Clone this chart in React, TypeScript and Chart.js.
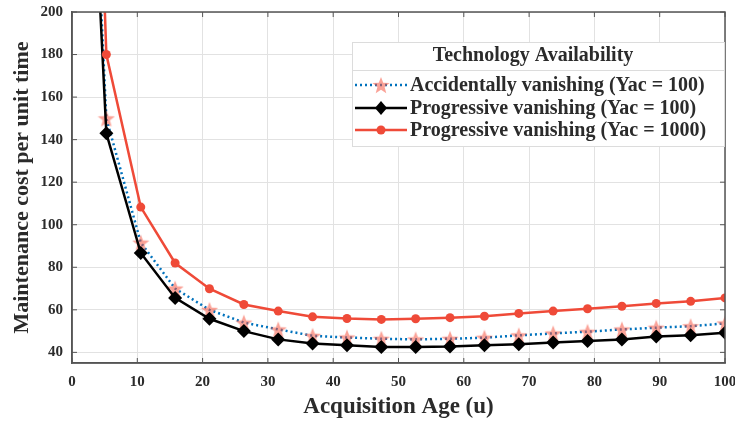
import React, { useEffect, useRef } from 'react';
import { Chart, registerables } from 'chart.js';
Chart.register(...registerables);

const ages = [0, 5.26, 10.53, 15.79, 21.05, 26.32, 31.58, 36.84, 42.11, 47.37, 52.63, 57.89, 63.16, 68.42, 73.68, 78.95, 84.21, 89.47, 94.74, 100];
const accidental100 = [490, 150, 91.6, 70, 60, 54, 50.8, 47.8, 47.0, 46.4, 46.1, 46.4, 46.9, 48.0, 48.9, 49.7, 50.8, 51.6, 52.3, 53.6];
const progressive100 = [470, 143, 86.7, 65.6, 55.8, 50, 46.1, 44.2, 43.3, 42.5, 42.5, 42.7, 43.3, 43.8, 44.6, 45.3, 46.1, 47.4, 48.0, 49.2];
const progressive1000 = [650, 180, 108.3, 82, 69.9, 62.5, 59.4, 56.7, 55.9, 55.5, 55.8, 56.3, 57.0, 58.3, 59.4, 60.5, 61.7, 63.0, 64.0, 65.6];
const xTicks = [0, 10, 20, 30, 40, 50, 60, 70, 80, 90, 100];
const yTicks = [40, 60, 80, 100, 120, 140, 160, 180, 200];
const seriesLabels = [
  'Accidentally vanishing (Yac = 100)',
  'Progressive vanishing (Yac = 100)',
  'Progressive vanishing (Yac = 1000)',
];
const legendTitle = 'Technology Availability';
const xTitle = 'Acquisition Age (u)';
const yTitle = 'Maintenance cost per unit time';

const BLUE = '#0072BD';
const RED = '#EF4A38';
const STAR = 'rgba(245,85,65,0.55)';
const TEXT = '#2b2b2b';
const AXIS = '#555555';
const FONT = '"Liberation Serif", "Times New Roman", serif';

function makeStar(size: number, color: string) {
  const c = document.createElement('canvas');
  c.width = size;
  c.height = size;
  const g = c.getContext('2d')!;
  const cx = size / 2, cy = size / 2 + size * 0.05;
  const R = size / 2, r = R * 0.42;
  g.beginPath();
  for (let i = 0; i < 10; i++) {
    const rad = i % 2 === 0 ? R : r;
    const a = -Math.PI / 2 + (i * Math.PI) / 5;
    const px = cx + rad * Math.cos(a), py = cy + rad * Math.sin(a);
    if (i === 0) g.moveTo(px, py); else g.lineTo(px, py);
  }
  g.closePath();
  g.fillStyle = color;
  g.fill();
  return c;
}

export default function App() {
  const ref = useRef<HTMLCanvasElement>(null);
  useEffect(() => {
    document.body.style.margin = '0';
    const star = makeStar(18, STAR);
    const toPts = (ys: number[]) => ages.map((x, i) => ({ x, y: ys[i] }));

    const framePlugin = {
      id: 'frame',
      afterDraw(chart: any) {
        const { ctx, chartArea: a, scales } = chart;
        ctx.save();
        ctx.strokeStyle = AXIS;
        ctx.lineWidth = 1.5;
        ctx.strokeRect(a.left, a.top, a.right - a.left, a.bottom - a.top);
        ctx.lineWidth = 1;
        const tl = 5;
        xTicks.forEach((v) => {
          const px = scales.x.getPixelForValue(v);
          ctx.beginPath();
          ctx.moveTo(px, a.bottom); ctx.lineTo(px, a.bottom - tl);
          ctx.moveTo(px, a.top); ctx.lineTo(px, a.top + tl);
          ctx.stroke();
        });
        yTicks.forEach((v) => {
          const py = scales.y.getPixelForValue(v);
          ctx.beginPath();
          ctx.moveTo(a.left, py); ctx.lineTo(a.left + tl, py);
          ctx.moveTo(a.right, py); ctx.lineTo(a.right - tl, py);
          ctx.stroke();
        });

        // legend
        const bx = 352, by = 42, bw = 372, bh = 104;
        ctx.fillStyle = '#ffffff';
        ctx.fillRect(bx, by, bw, bh);
        ctx.strokeStyle = '#dcdcdc';
        ctx.lineWidth = 1;
        ctx.strokeRect(bx + 0.5, by + 0.5, bw, bh);
        ctx.beginPath();
        ctx.moveTo(bx, by + 28.5); ctx.lineTo(bx + bw, by + 28.5);
        ctx.stroke();
        ctx.fillStyle = TEXT;
        ctx.font = `bold 20px ${FONT}`;
        ctx.textAlign = 'center';
        ctx.textBaseline = 'middle';
        ctx.fillText(legendTitle, 533, 56);
        const rows = [85, 108, 130];
        const x0 = 355, x1 = 407, xm = 381;
        ctx.textAlign = 'left';
        rows.forEach((ry, i) => {
          ctx.save();
          ctx.lineWidth = 2.5;
          if (i === 0) {
            ctx.strokeStyle = BLUE;
            ctx.setLineDash([2, 3]);
          } else {
            ctx.strokeStyle = i === 1 ? '#000000' : RED;
          }
          ctx.beginPath();
          ctx.moveTo(x0, ry); ctx.lineTo(x1, ry);
          ctx.stroke();
          ctx.restore();
          if (i === 0) {
            ctx.drawImage(star, xm - 9, ry - 9);
          } else if (i === 1) {
            ctx.fillStyle = '#000000';
            ctx.beginPath();
            ctx.moveTo(xm, ry - 7); ctx.lineTo(xm + 6, ry); ctx.lineTo(xm, ry + 7); ctx.lineTo(xm - 6, ry);
            ctx.closePath();
            ctx.fill();
          } else {
            ctx.fillStyle = RED;
            ctx.beginPath();
            ctx.arc(xm, ry, 4.5, 0, Math.PI * 2);
            ctx.fill();
          }
          ctx.fillStyle = TEXT;
          ctx.font = `bold 20px ${FONT}`;
          ctx.fillText(seriesLabels[i], 410, ry + 1);
        });
        ctx.restore();
      },
    };

    const chart = new Chart(ref.current!, {
      type: 'line',
      data: {
        datasets: [
          {
            label: seriesLabels[0],
            data: toPts(accidental100),
            borderColor: BLUE,
            borderWidth: 2.5,
            borderDash: [2, 3],
            pointStyle: star as any,
            pointRadius: 9,
            order: 3,
          },
          {
            label: seriesLabels[1],
            data: toPts(progressive100),
            borderColor: '#000000',
            backgroundColor: '#000000',
            borderWidth: 2.5,
            pointStyle: 'rectRot',
            pointRadius: 7,
            pointBorderWidth: 0,
            order: 2,
          },
          {
            label: seriesLabels[2],
            data: toPts(progressive1000),
            borderColor: RED,
            backgroundColor: RED,
            borderWidth: 2.5,
            pointStyle: 'circle',
            pointRadius: 4.5,
            pointBorderWidth: 0,
            order: 1,
          },
        ],
      },
      options: {
        animation: false,
        responsive: false,
        layout: { padding: { left: 0, right: 10, top: 12, bottom: 0 }, autoPadding: false },
        plugins: { legend: { display: false }, tooltip: { enabled: false } },
        elements: { line: { tension: 0 } },
        scales: {
          x: {
            type: 'linear',
            min: 0,
            max: 100,
            afterBuildTicks: (s: any) => { s.ticks = xTicks.map((v) => ({ value: v })); },
            afterFit: (s: any) => { s.height = 62; s.paddingLeft = 0; s.paddingRight = 0; },
            grid: { color: '#e2e2e2', drawTicks: false },
            border: { color: AXIS, width: 1.5 },
            ticks: { color: TEXT, font: { family: FONT, size: 15, weight: 'bold' }, padding: 10, maxRotation: 0 },
            title: { display: true, text: xTitle, color: TEXT, font: { family: FONT, size: 23, weight: 'bold' }, padding: { top: 0, bottom: 4 } },
          },
          y: {
            type: 'linear',
            min: 35,
            max: 200,
            afterBuildTicks: (s: any) => { s.ticks = yTicks.map((v) => ({ value: v })); },
            afterFit: (s: any) => { s.width = 72; s.paddingTop = 0; s.paddingBottom = 0; },
            grid: { color: '#e2e2e2', drawTicks: false },
            border: { color: AXIS, width: 1.5 },
            ticks: { color: TEXT, font: { family: FONT, size: 15, weight: 'bold' }, padding: 9 },
            title: { display: true, text: yTitle, color: TEXT, font: { family: FONT, size: 22, weight: 'bold' }, padding: { top: 9, bottom: 0 } },
          },
        },
      },
      plugins: [framePlugin],
    });
    return () => chart.destroy();
  }, []);
  return (
    <div style={{ position: 'absolute', left: 0, top: 0, width: 735, height: 425, background: '#fff' }}>
      <canvas ref={ref} width={735} height={425} />
    </div>
  );
}
